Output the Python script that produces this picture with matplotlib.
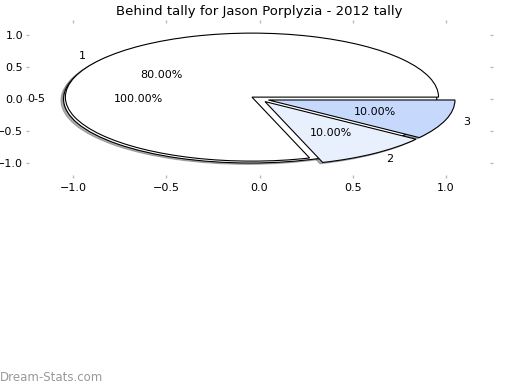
import matplotlib
matplotlib.use("Agg")
import matplotlib.pyplot as plt

title = "Behind tally for Jason Porplyzia - 2012 tally"
outer_labels = ["0-5"]
outer_values = [100]
inner_labels = ["1", "2", "3"]
inner_values = [80, 10, 10]
inner_colors = ["#ffffff", "#e8f0fe", "#c6d9fd"]
ticks = [-1.0, -0.5, 0.0, 0.5, 1.0]

fig = plt.figure(figsize=(5.2, 3.9), dpi=100)
ax = fig.add_axes([29 / 520, 1 - 175 / 390, 461 / 520, 152 / 390])

shadow = dict(ox=-0.01, oy=-0.015, shade=0.6)
ax.pie(outer_values, labels=outer_labels, colors=["#ffffff"], explode=[0.05],
       autopct="%.2f%%", shadow=shadow, frame=True,
       wedgeprops=dict(edgecolor="black", linewidth=0.8),
       textprops=dict(fontsize=8))
ax.pie(inner_values, labels=inner_labels, colors=inner_colors,
       explode=[0.05] * len(inner_values),
       autopct="%.2f%%", shadow=shadow, frame=True,
       wedgeprops=dict(edgecolor="black", linewidth=0.8),
       textprops=dict(fontsize=8))

ax.set_aspect("auto")
ax.set_xlim(-1.2353, 1.2353)
ax.set_ylim(-1.1875, 1.1875)
ax.set_xticks(ticks)
ax.set_yticks(ticks)
for s in ax.spines.values():
    s.set_visible(False)
ax.tick_params(axis="both", which="both", direction="out", length=2.2, width=1,
               color="#bbbbbb", labelsize=8, top=True, right=True,
               labeltop=False, labelright=False)
ax.tick_params(axis="y", pad=2)
ax.set_title(title, fontsize=9.5, pad=6)

fig.text(0.0, 0.015, "Dream-Stats.com", fontsize=8.5, color="#999999",
         ha="left", va="bottom")

fig.savefig("out.png", dpi=100)
